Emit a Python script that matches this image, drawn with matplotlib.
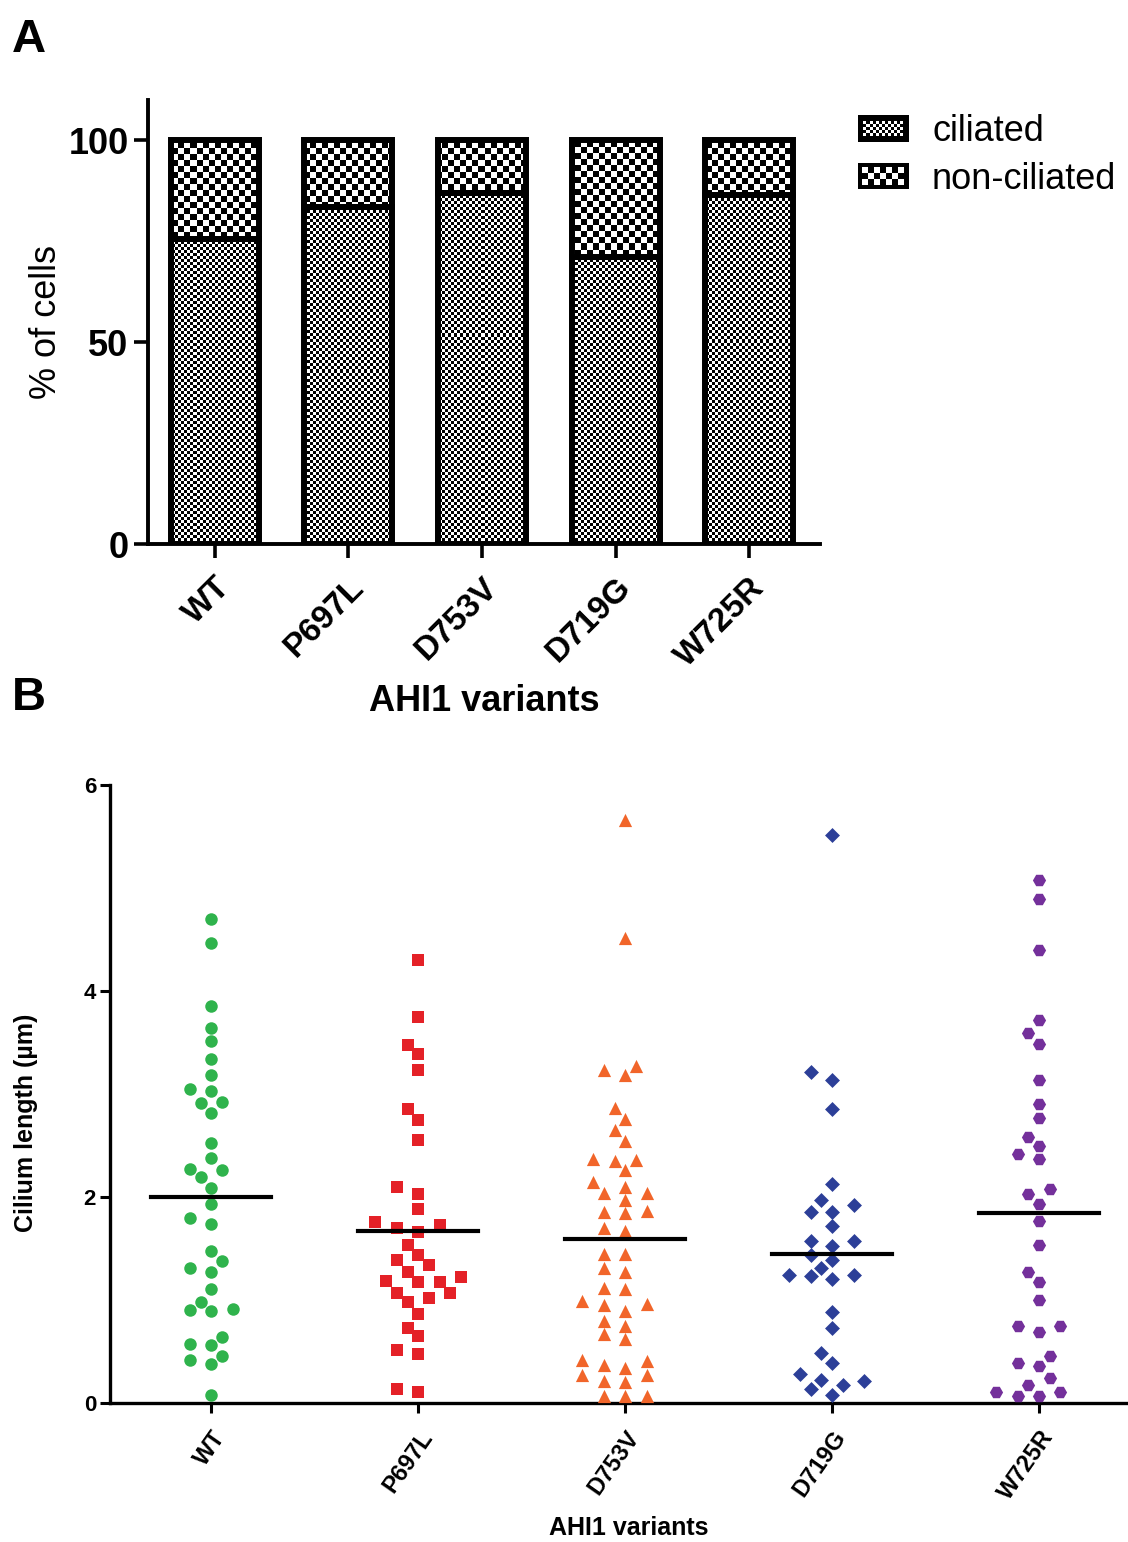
import matplotlib
matplotlib.use("Agg")
import matplotlib.pyplot as plt
import numpy as np
from matplotlib.legend_handler import HandlerBase
from matplotlib.patches import Patch, Rectangle

plt.rcParams["font.family"] = ["Liberation Sans", "DejaVu Sans"]

VARIANTS = ["WT", "P697L", "D753V", "D719G", "W725R"]

# Panel A: % of cells
CILIATED = [75.5, 83.5, 87.0, 71.0, 86.5]
NON_CILIATED = [24.5, 16.5, 13.0, 29.0, 13.5]

# Panel B: cilium length (um) per variant
LEN_WT = [4.70, 4.47, 3.85, 3.64, 3.51, 3.34, 3.18, 3.05, 3.03, 2.92, 2.91, 2.82,
          2.52, 2.38, 2.27, 2.26, 2.19, 2.09, 1.93, 1.80, 1.74, 1.48, 1.38, 1.31,
          1.27, 1.11, 0.98, 0.90, 0.89, 0.91, 0.64, 0.56, 0.57, 0.42, 0.38, 0.46,
          0.08]
LEN_P697L = [4.30, 3.75, 3.48, 3.39, 3.23, 2.85, 2.75, 2.55, 2.10, 2.03, 1.88, 1.76,
             1.73, 1.66, 1.70, 1.53, 1.44, 1.39, 1.34, 1.27, 1.22, 1.18, 1.17, 1.17,
             1.07, 1.07, 1.02, 0.98, 0.86, 0.73, 0.65, 0.51, 0.48, 0.14, 0.11]
LEN_D753V = [5.66, 4.51, 3.27, 3.23, 3.18, 2.86, 2.76, 2.65, 2.54, 2.36, 2.35, 2.37,
             2.26, 2.15, 2.10, 2.04, 2.04, 1.97, 1.85, 1.86, 1.84, 1.70, 1.67, 1.45,
             1.45, 1.27, 1.31, 1.11, 1.12, 0.99, 0.95, 0.96, 0.89, 0.80, 0.75, 0.67,
             0.62, 0.42, 0.41, 0.37, 0.34, 0.27, 0.27, 0.21, 0.20, 0.07, 0.07, 0.07]
LEN_D719G = [5.51, 3.21, 3.14, 2.85, 2.13, 1.97, 1.92, 1.85, 1.85, 1.72, 1.57, 1.57,
             1.52, 1.44, 1.39, 1.31, 1.24, 1.20, 1.23, 1.24, 0.88, 0.73, 0.49, 0.39,
             0.28, 0.22, 0.17, 0.21, 0.14, 0.08]
LEN_W725R = [5.08, 4.89, 4.40, 3.72, 3.59, 3.49, 3.14, 2.90, 2.77, 2.58, 2.50, 2.42,
             2.37, 2.08, 2.03, 1.93, 1.77, 1.53, 1.27, 1.17, 1.00, 0.75, 0.75, 0.69,
             0.46, 0.39, 0.36, 0.24, 0.17, 0.11, 0.07, 0.07, 0.11]
LENGTHS = [LEN_WT, LEN_P697L, LEN_D753V, LEN_D719G, LEN_W725R]

COLORS = ["#2fb34c", "#e42127", "#f1652a", "#2c3f98", "#74309b"]
MARKERS = ["o", "s", "^", "D", "H"]
MSIZES = [9.0, 8.5, 9.5, 7.6, 9.5]

W_PX, H_PX = 1128, 1542


def rect_px(left, top, right, bottom):
    return (left / W_PX, 1 - bottom / H_PX, (right - left) / W_PX, (bottom - top) / H_PX)


class CheckerHandler(HandlerBase):
    """Legend key: black box with a white checkerboard inside."""

    def __init__(self, cell):
        super().__init__()
        self.cell = cell

    def create_artists(self, legend, orig_handle, xdescent, ydescent, width, height, fontsize, trans):
        x0, y0 = -xdescent, -ydescent
        arts = [Rectangle((x0, y0), width, height, fc="black", ec="none", transform=trans)]
        b, c = 3.0, self.cell
        nx = int((width - 2 * b) // c)
        ny = int((height - 2 * b) // c)
        ix0 = x0 + (width - nx * c) / 2
        iy0 = y0 + (height - ny * c) / 2
        for i in range(nx):
            for j in range(ny):
                if (i + j) % 2 == 0:
                    arts.append(Rectangle((ix0 + i * c, iy0 + j * c), c, c,
                                          fc="white", ec="none", transform=trans))
        return arts


def checker(w_px, h_px, cell):
    nx, ny = w_px // cell, h_px // cell
    return np.add.outer(np.arange(ny), np.arange(nx)) % 2


def swarm_offsets(ax, vals, step_px, diam_px):
    p0 = ax.transData.transform((0, 0))
    p1 = ax.transData.transform((1, 1))
    sx, sy = p1[0] - p0[0], p1[1] - p0[1]
    vals = np.asarray(vals)
    placed = []
    offs = np.zeros(len(vals))
    cands = [0]
    for m in range(1, 12):
        cands += [-m, m]
    for idx in np.argsort(vals, kind="stable"):
        y = vals[idx] * sy
        for m in cands:
            x = m * step_px
            if all((x - px) ** 2 + (y - py) ** 2 >= diam_px ** 2 for px, py in placed):
                break
        placed.append((x, y))
        offs[idx] = x / sx
    return offs


fig = plt.figure(figsize=(W_PX / 100, H_PX / 100), dpi=100)

# ---------------- Panel A ----------------
A_L, A_T, A_R, A_B = 148, 100, 820, 544
axA = fig.add_axes(rect_px(A_L, A_T, A_R, A_B))
x = np.arange(len(VARIANTS))
bw = 0.66
base = axA.bar(x, CILIATED, width=bw, color="white", linewidth=0, zorder=1)
top = axA.bar(x, NON_CILIATED, bottom=CILIATED, width=bw, color="white", linewidth=0, zorder=1)
fine = checker(A_R - A_L, A_B - A_T, 3)
coarse = checker(A_R - A_L, A_B - A_T, 6)
for patches, img in ((base, fine), (top, coarse)):
    for p in patches:
        im = axA.imshow(img, cmap="gray", extent=(0, 1, 0, 1), transform=axA.transAxes,
                        interpolation="nearest", aspect="auto", zorder=2)
        im.set_clip_path(p)
axA.bar(x, CILIATED, width=bw, fill=False, edgecolor="black", linewidth=4.3, zorder=3)
axA.bar(x, NON_CILIATED, bottom=CILIATED, width=bw, fill=False, edgecolor="black",
        linewidth=4.3, zorder=3)
axA.set_xlim(-0.5, 4.53)
axA.set_ylim(0, 110)
axA.set_yticks([0, 50, 100], ["0", "50", "100"], fontsize=26, fontweight="bold")
axA.set_xticks(x, VARIANTS, fontsize=24, fontweight="bold", rotation=45,
               ha="right", rotation_mode="anchor")
axA.tick_params(axis="both", direction="out", width=2.6, length=10)
axA.tick_params(axis="y", pad=4)
axA.tick_params(axis="x", pad=10)
for s in ("top", "right"):
    axA.spines[s].set_visible(False)
for s in ("left", "bottom"):
    axA.spines[s].set_linewidth(2.8)
axA.set_ylabel("% of cells", fontsize=26, labelpad=3)
axA.set_xlabel("AHI1 variants", fontsize=26, fontweight="bold", labelpad=8)

h_cil = Patch(label="ciliated")
h_non = Patch(label="non-ciliated")
fig.legend(handles=[h_cil, h_non], handler_map={h_cil: CheckerHandler(2.2), h_non: CheckerHandler(4.3)},
           loc="upper left", bbox_to_anchor=(858 / W_PX, 1 - 114 / H_PX), frameon=False,
           fontsize=26, handlelength=1.4, handleheight=0.75, handletextpad=0.65,
           labelspacing=0.35, borderpad=0, borderaxespad=0)

# ---------------- Panel B ----------------
axB = fig.add_axes(rect_px(110, 785, 1128, 1403))
axB.set_xlim(-0.49, 4.43)
axB.set_ylim(0, 6)
for i, (vals, col, mk, ms) in enumerate(zip(LENGTHS, COLORS, MARKERS, MSIZES)):
    offs = swarm_offsets(axB, vals, 10.7, 13.0)
    axB.scatter(i + offs, vals, s=ms ** 2, marker=mk, color=col, linewidths=0,
                zorder=3, clip_on=False)
    m = np.mean(vals)
    axB.plot([i - 0.29, i + 0.29], [m, m], color="black", linewidth=3.0, zorder=4)
axB.set_yticks([0, 2, 4, 6], ["0", "2", "4", "6"], fontsize=16, fontweight="bold")
axB.set_xticks(x, VARIANTS, fontsize=17, fontweight="bold", rotation=55,
               ha="right", rotation_mode="anchor")
axB.tick_params(axis="both", direction="out", width=2.2, length=7)
axB.tick_params(axis="y", pad=3)
axB.tick_params(axis="x", pad=10)
for s in ("top", "right"):
    axB.spines[s].set_visible(False)
for s in ("left", "bottom"):
    axB.spines[s].set_linewidth(2.4)
axB.set_ylabel("Cilium length (\u00b5m)", fontsize=18, fontweight="bold")
axB.yaxis.set_label_coords(-0.071, 0.453)
axB.set_xlabel("AHI1 variants", fontsize=18, fontweight="bold")
axB.xaxis.set_label_coords(0.51, -0.183)

fig.text(12 / W_PX, 1 - 18 / H_PX, "A", fontsize=34, fontweight="bold", va="top", ha="left")
fig.text(12 / W_PX, 1 - 676 / H_PX, "B", fontsize=34, fontweight="bold", va="top", ha="left")

fig.savefig("out.png", dpi=100)
